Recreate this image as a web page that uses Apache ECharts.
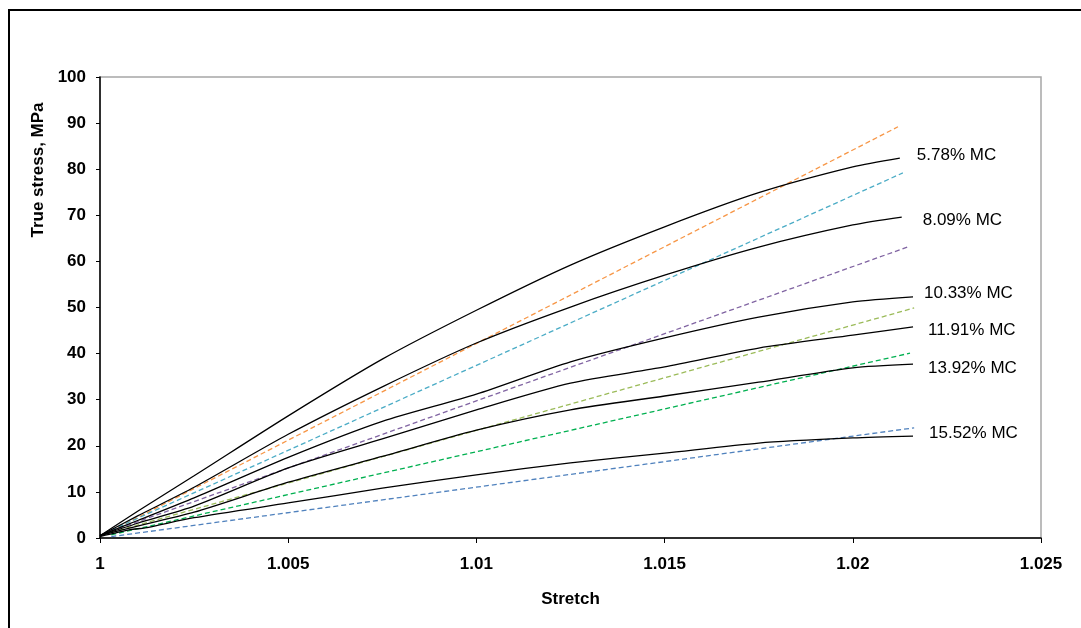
<!DOCTYPE html>
<html>
<head>
<meta charset="utf-8">
<title>True stress vs stretch</title>
<script src="https://cdn.jsdelivr.net/npm/echarts@6/dist/echarts.min.js"></script>
<style>
  html,body{margin:0;padding:0;background:#fff;}
  #chart{width:1081px;height:628px;}
</style>
</head>
<body>
<div id="chart"></div>
<script>
// measured curves, [stretch, true stress MPa]
const mc578 = [[1,0.5],[1.001,5.8],[1.0025,13.5],[1.005,26.5],[1.0075,38.8],[1.01,49.4],[1.0125,59.2],[1.015,67.5],[1.0175,74.9],[1.02,80.5],[1.02125,82.4]]
const mc809 = [[1,0.5],[1.001,4.8],[1.0025,11],[1.005,22.5],[1.0075,32.8],[1.01,42.3],[1.0125,50.1],[1.015,57.0],[1.0175,63.1],[1.02,67.9],[1.0213,69.6]]
const mc1033 = [[1,0.5],[1.001,3.8],[1.0025,8.7],[1.005,17.5],[1.0075,25.3],[1.01,31.2],[1.0125,38.2],[1.015,43.4],[1.0175,47.9],[1.02,51.2],[1.0216,52.3]]
const mc1191 = [[1,0.5],[1.001,3.2],[1.0025,6.9],[1.005,15.2],[1.0075,21.5],[1.01,27.8],[1.0125,33.6],[1.015,37.1],[1.0175,41.2],[1.02,44.0],[1.0216,45.8]]
const mc1392 = [[1,0.5],[1.001,2.6],[1.0025,5.6],[1.005,12.1],[1.0075,17.7],[1.01,23.4],[1.0125,27.8],[1.015,30.8],[1.0175,33.8],[1.02,36.9],[1.0216,37.7]]
const mc1552 = [[1,0.3],[1.0008,1.8],[1.0012,2.2],[1.0025,4.4],[1.005,7.6],[1.0075,10.8],[1.01,13.7],[1.0125,16.3],[1.015,18.4],[1.0175,20.6],[1.02,21.7],[1.0216,22.1]]

// linear fits (dashed), start and end point
const fit578 = [[1.0003,1.5],[1.0212,89.2]]
const fit809 = [[1.0003,1.7],[1.02133,79.2]]
const fit1033 = [[1.0003,1.5],[1.02152,63.3]]
const fit1191 = [[1.0003,1.2],[1.02163,49.9]]
const fit1392 = [[1.0003,0.7],[1.02152,40.1]]
const fit1552 = [[1.0003,0.3],[1.02163,23.9]]

const curveNames = ["5.78% MC","8.09% MC","10.33% MC","11.91% MC","13.92% MC","15.52% MC"]
const xTickLabels = ["1","1.005","1.01","1.015","1.02","1.025"]

const font = "'Liberation Sans', Arial, Helvetica, sans-serif"

let myChart = echarts.init(document.getElementById("chart"))

const curves = [mc578,mc809,mc1033,mc1191,mc1392,mc1552]
const fits = [fit578,fit809,fit1033,fit1191,fit1392,fit1552]
const fitColors = ["#F79646","#4BACC6","#8064A2","#9BBB59","#00B050","#4F81BD"]
// where each curve label sits relative to the curve end
const labelOffsets = [[17,-3],[21,3],[11,-4],[15,3],[15,4],[16,-3]]

let series = []
fits.forEach((d,i)=>{
    series.push({
        type:"line",
        name:"fit " + curveNames[i],
        data:d,
        symbol:"none",
        lineStyle:{color:fitColors[i],width:1.3,type:[5,3]},
        z:2
    })
})
curves.forEach((d,i)=>{
    series.push({
        type:"line",
        name:curveNames[i],
        data:d,
        symbol:"none",
        smooth:0.25,
        lineStyle:{color:"#000",width:1.3},
        z:3,
        endLabel:{
            show:true,
            formatter:curveNames[i],
            distance:0,
            offset:labelOffsets[i],
            color:"#000",
            fontFamily:font,
            fontSize:17
        }
    })
})

myChart.setOption({
    animation:false,
    backgroundColor:"#fff",
    grid:{
        left:100,
        right:40,
        top:77,
        bottom:90,
        show:true,
        borderColor:"#a6a6a6",
        borderWidth:1.5
    },
    xAxis:{
        type:"value",
        min:1,
        max:1.025,
        interval:0.005,
        name:"Stretch",
        nameLocation:"middle",
        nameGap:53,
        nameTextStyle:{color:"#000",fontFamily:font,fontSize:17,fontWeight:"bold"},
        axisLine:{lineStyle:{color:"#000",width:1.5}},
        axisTick:{show:true,inside:false,length:5,lineStyle:{color:"#000"}},
        axisLabel:{
            margin:18,
            color:"#000",
            fontFamily:font,
            fontSize:17,
            fontWeight:"bold",
            formatter:(v)=>xTickLabels[Math.round((v-1)/0.005)]
        },
        splitLine:{show:false}
    },
    yAxis:{
        type:"value",
        min:0,
        max:100,
        interval:10,
        axisLine:{show:true,lineStyle:{color:"#000",width:1.5}},
        axisTick:{show:true,inside:false,length:4,lineStyle:{color:"#000"}},
        axisLabel:{margin:14,color:"#000",fontFamily:font,fontSize:17,fontWeight:"bold"},
        splitLine:{show:false}
    },
    graphic:[
        // outer chart frame (only top and left edges fall inside the picture)
        {type:"rect",shape:{x:9,y:10,width:1200,height:800},style:{fill:"none",stroke:"#000",lineWidth:2},silent:true},
        {type:"text",x:38,y:170,rotation:Math.PI/2,
         style:{text:"True stress, MPa",fill:"#000",font:"bold 17px " + font,align:"center",verticalAlign:"middle"}}
    ],
    series:series
})
</script>
</body>
</html>
